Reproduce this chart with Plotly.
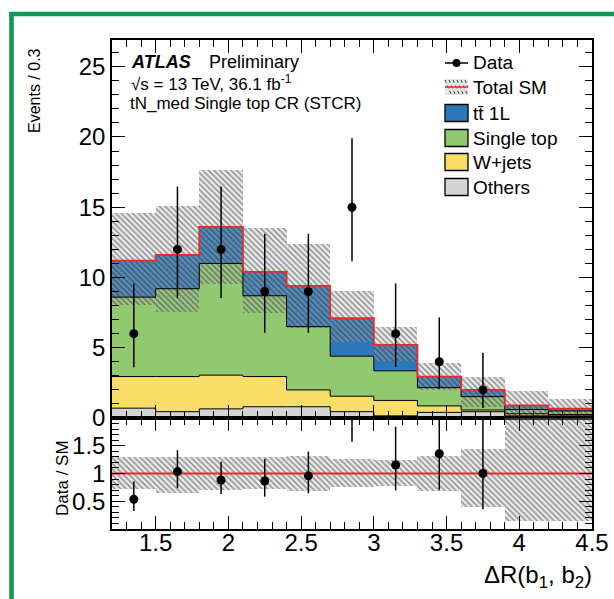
import numpy as np
import plotly.graph_objects as go

# ---------------- data ----------------
bin_edges = [1.2, 1.5, 1.8, 2.1, 2.4, 2.7, 3.0, 3.3, 3.6, 3.9, 4.2, 4.5]
others    = [0.70, 0.45, 0.65, 0.80, 0.80, 0.45, 0.15, 0.40, 0.45, 0.15, 0.15]
wjets     = [2.25, 2.50, 2.40, 2.15, 1.20, 1.10, 1.10, 0.46, 0.12, 0.15, 0.10]
singletop = [5.65, 6.25, 7.95, 5.75, 4.50, 2.85, 2.11, 1.30, 0.95, 0.30, 0.25]
ttbar     = [2.60, 2.40, 2.60, 1.70, 2.90, 2.70, 1.84, 0.79, 0.48, 0.30, 0.16]
data          = [6, 12, 12, 9, 9, 15, 6, 4, 2, None, None]
data_err_up   = [3.58, 4.47, 4.47, 4.11, 4.11, 4.90, 3.58, 3.16, 2.64, None, None]
data_err_down = [2.38, 3.46, 3.46, 2.94, 2.94, 3.84, 2.38, 1.91, 1.29, None, None]
unc_up_rel    = [0.30, 0.30, 0.30, 0.30, 0.32, 0.27, 0.25, 0.32, 0.45, 1.10, 1.10]
unc_down_rel  = [0.28, 0.35, 0.30, 0.28, 0.32, 0.24, 0.22, 0.32, 0.60, 0.85, 0.85]

x_ticks = [1.5, 2, 2.5, 3, 3.5, 4, 4.5]
ratio_ticks = [0.5, 1, 1.5]

# ---------------- derived ----------------
edges = np.array(bin_edges)
centers = 0.5 * (edges[:-1] + edges[1:])
widths = np.diff(edges)
comps = [("Others", others, "#d4d4d4"),
         ("W+jets", wjets, "#f8dd68"),
         ("Single top", singletop, "#90c970"),
         ("tt 1L", ttbar, "#2b79bb")]
base = np.zeros(len(centers))
tops = []
fig = go.Figure()
for name, vals, col in comps:
    v = np.array(vals)
    fig.add_trace(go.Bar(x=centers, y=v, base=base.copy(), width=widths,
                         marker=dict(color=col, line=dict(width=0)),
                         xaxis="x", yaxis="y", showlegend=False, hoverinfo="skip"))
    base = base + v
    tops.append(base.copy())
total = base

# step outlines
def step(y):
    return list(edges), list(y) + [y[-1]]

for t in tops[:-1]:
    sx, sy = step(t)
    fig.add_trace(go.Scatter(x=sx, y=sy, mode="lines", line=dict(color="black", width=1, shape="hv"),
                             xaxis="x", yaxis="y", showlegend=False, hoverinfo="skip"))

up = np.array(unc_up_rel)
dn = np.array(unc_down_rel)
hatch = dict(shape="\\", fgcolor="rgba(25,25,25,0.85)", bgcolor="rgba(190,190,190,0.30)",
             size=4, solidity=0.4)
fig.add_trace(go.Bar(x=centers, y=total * (up + dn), base=total * (1 - dn), width=widths,
                     marker=dict(color="rgba(0,0,0,0)", pattern=hatch, line=dict(width=0)),
                     xaxis="x", yaxis="y", showlegend=False, hoverinfo="skip"))
sx, sy = step(total)
fig.add_trace(go.Scatter(x=sx, y=sy, mode="lines", line=dict(color="#e8282b", width=1.8, shape="hv"),
                         xaxis="x", yaxis="y", showlegend=False, hoverinfo="skip"))

fig.add_trace(go.Scatter(x=centers, y=data, mode="markers",
                         marker=dict(color="black", size=9),
                         error_y=dict(type="data", symmetric=False, array=data_err_up,
                                      arrayminus=data_err_down, color="black", thickness=1.5, width=0),
                         xaxis="x", yaxis="y", showlegend=False))

# ratio panel
fig.add_trace(go.Bar(x=centers, y=up + dn, base=1 - dn, width=widths,
                     marker=dict(color="rgba(0,0,0,0)", pattern=hatch, line=dict(width=0)),
                     xaxis="x2", yaxis="y2", showlegend=False, hoverinfo="skip"))
fig.add_trace(go.Scatter(x=[edges[0], edges[-1]], y=[1, 1], mode="lines",
                         line=dict(color="#e8282b", width=1.8), xaxis="x2", yaxis="y2",
                         showlegend=False, hoverinfo="skip"))
ratio = [d / t if d is not None else None for d, t in zip(data, total)]
r_up = [e / t if e is not None else None for e, t in zip(data_err_up, total)]
r_dn = [e / t if e is not None else None for e, t in zip(data_err_down, total)]
fig.add_trace(go.Scatter(x=centers, y=ratio, mode="markers", marker=dict(color="black", size=9),
                         error_y=dict(type="data", symmetric=False, array=r_up, arrayminus=r_dn,
                                      color="black", thickness=1.5, width=0),
                         xaxis="x2", yaxis="y2", showlegend=False))

# ---------------- layout ----------------
W, H = 614, 599
L, R, T, B = 112, 592, 40, 529
def px(xp):
    return (xp - L) / (R - L)
def py(yp):
    return (B - yp) / (B - T)

FONT = "Liberation Sans, Arial, Helvetica, sans-serif"
split = (B - 418) / (B - T)

axis_common = dict(showline=True, linecolor="black", linewidth=1.5, mirror="ticks",
                   ticks="inside", tickcolor="black", tickwidth=1, showgrid=False, zeroline=False,
                   automargin=False,
                   tickfont=dict(family=FONT, size=24, color="black"))

fig.update_layout(
    width=W, height=H, margin=dict(l=L, r=W - R, t=T, b=H - B),
    paper_bgcolor="white", plot_bgcolor="white", barmode="overlay", bargap=0,
    font=dict(family=FONT, color="black"),
    xaxis=dict(domain=[0, 1], range=[1.2, 4.5], anchor="y", showticklabels=False,
               tickvals=x_ticks, ticklen=13,
               minor=dict(dtick=0.1, tick0=0, ticklen=7, ticks="inside", tickcolor="black"),
               matches="x2", **axis_common),
    yaxis=dict(domain=[split, 1], range=[0, 26.9], anchor="x", dtick=5, tick0=0, ticklen=13,
               minor=dict(dtick=1, tick0=0, ticklen=7, ticks="inside", tickcolor="black"),
               **axis_common),
    xaxis2=dict(domain=[0, 1], range=[1.2, 4.5], anchor="y2",
                tickvals=x_ticks, ticktext=[f"{v:g}" for v in x_ticks], ticklen=13,
                ticklabelstandoff=-9,
                minor=dict(dtick=0.1, tick0=0, ticklen=7, ticks="inside", tickcolor="black"),
                **axis_common),
    yaxis2=dict(domain=[0, split], range=[0, 2.0], anchor="x2",
                tickvals=ratio_ticks, ticktext=[f"{v:g}" for v in ratio_ticks], ticklen=13,
                minor=dict(dtick=0.1, tick0=0, ticklen=7, ticks="inside", tickcolor="black"),
                **axis_common),
)

ann = []
def text(xp, yp, s, size, xanchor="left", angle=0, yanchor="middle"):
    ann.append(dict(x=px(xp), y=py(yp), xref="paper", yref="paper", text=s, showarrow=False,
                    xanchor=xanchor, yanchor=yanchor, textangle=angle,
                    font=dict(family=FONT, size=size, color="black")))

text(129, 62, "<b><i>ATLAS</i></b>", 18)
text(207, 62, "Preliminary", 18)
text(129, 83, "\u221As = 13 TeV, 36.1 fb<sup>-1</sup>", 17)
text(128, 103, "tN_med Single top CR (STCR)", 17)

leg_y = [63, 87, 113, 138, 162, 187]
leg_t = ["Data", "Total SM", "tt\u0304 1L", "Single top", "W+jets", "Others"]
for yy, s in zip(leg_y, leg_t):
    text(471, yy, s, 19)

text(35, 91, "Events / 0.3", 16, xanchor="center", angle=-90)
text(62, 478, "Data / SM", 17, xanchor="center", angle=-90)
text(594, 576, "\u0394R(b<sub>1</sub>, b<sub>2</sub>)", 24, xanchor="right")

shapes = []
# legend symbols
bx0, bx1 = 445, 468
shapes.append(dict(type="line", xref="paper", yref="paper", x0=px(bx0), x1=px(bx1),
                   y0=py(leg_y[0]), y1=py(leg_y[0]), line=dict(color="black", width=1.5)))
shapes.append(dict(type="circle", xref="paper", yref="paper", x0=px(452.5), x1=px(460.5),
                   y0=py(leg_y[0] + 4), y1=py(leg_y[0] - 4), fillcolor="black",
                   line=dict(color="black", width=0)))
# total SM hatched symbol
shapes.append(dict(type="rect", xref="paper", yref="paper", x0=px(bx0), x1=px(bx1),
                   y0=py(leg_y[1] + 8), y1=py(leg_y[1] - 8), fillcolor="rgba(190,190,190,0.4)",
                   line=dict(width=0)))
for k in range(6):
    xa = bx0 + k * 4
    shapes.append(dict(type="line", xref="paper", yref="paper", x0=px(xa), x1=px(min(xa + 6, bx1)),
                       y0=py(leg_y[1] - 7), y1=py(leg_y[1] + 7 if xa + 6 <= bx1 else leg_y[1]),
                       line=dict(color="rgba(25,25,25,0.85)", width=1, dash="dot")))
shapes.append(dict(type="line", xref="paper", yref="paper", x0=px(bx0), x1=px(bx1),
                   y0=py(leg_y[1]), y1=py(leg_y[1]), line=dict(color="#e8282b", width=1.5)))
for yy, (_, _, col) in zip(leg_y[2:], comps[::-1]):
    shapes.append(dict(type="rect", xref="paper", yref="paper", x0=px(bx0), x1=px(bx1),
                       y0=py(yy + 8.5), y1=py(yy - 8.5), fillcolor=col,
                       line=dict(color="black", width=1.3)))

# green frame
green = "#109a50"
shapes.append(dict(type="line", xref="paper", yref="paper", x0=px(11.5), x1=px(11.5),
                   y0=py(12), y1=py(605), line=dict(color=green, width=4.5)))
shapes.append(dict(type="line", xref="paper", yref="paper", x0=px(9.5), x1=px(620),
                   y0=py(14), y1=py(14), line=dict(color=green, width=4.5)))

fig.update_layout(annotations=ann, shapes=shapes)
fig.write_html("out.html", config={"displayModeBar": False},
               post_script="document.body.style.margin='0px';document.body.style.padding='0px';")
